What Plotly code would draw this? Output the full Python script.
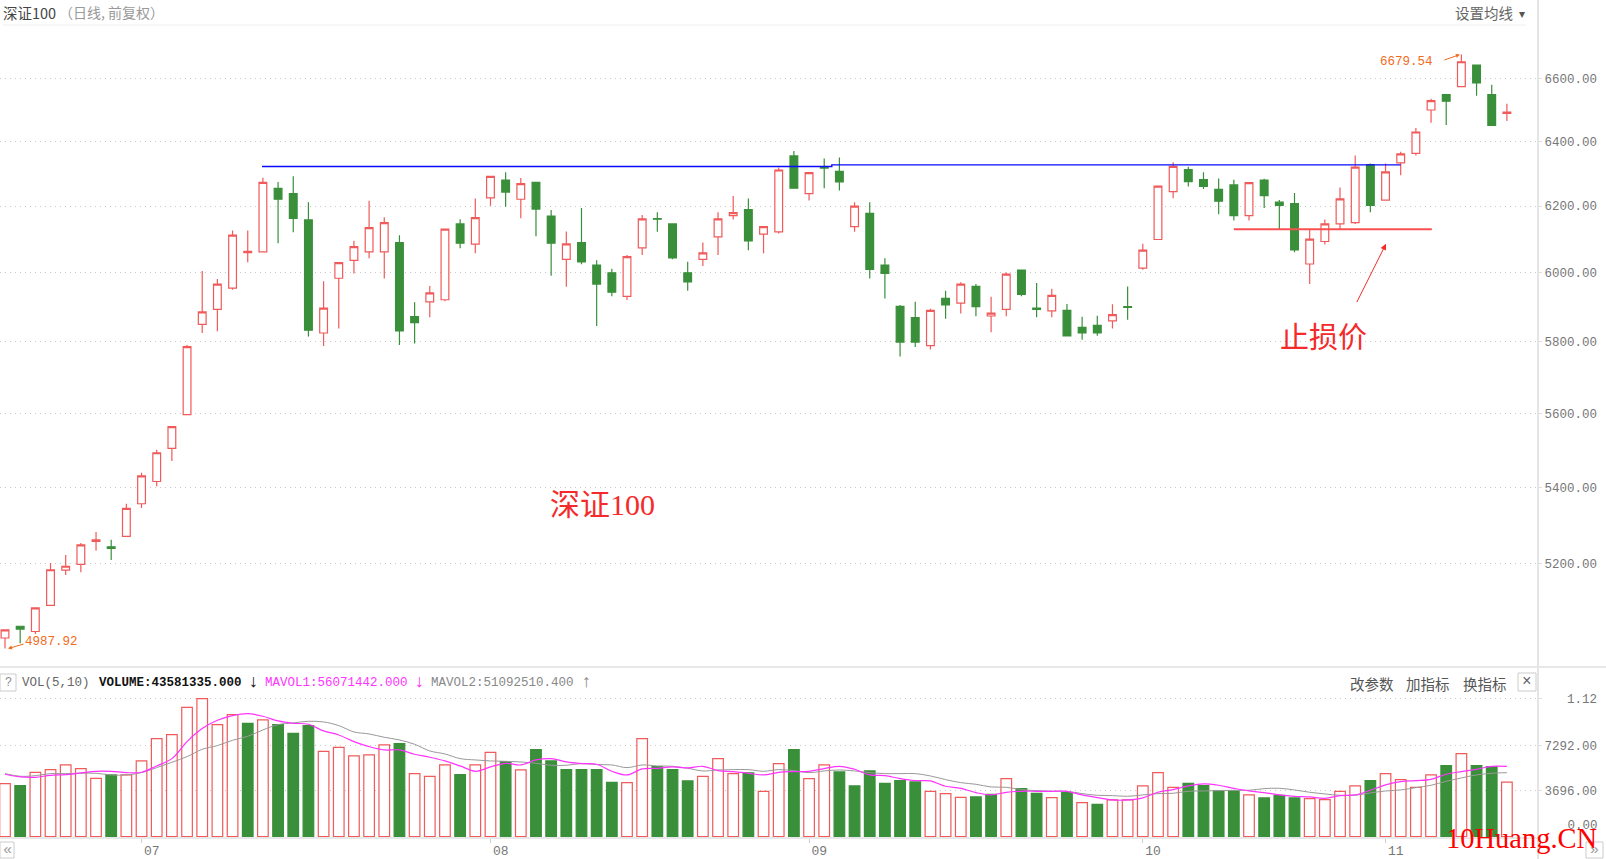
import math
import plotly.graph_objects as go

# daily bars
opens = [5014,5043,5030,5095,5184,5199,5258,5244,5271,5356,5415,5504,5596,5850,5893,5955,6060,6062,6254,6238,
         6158,5825,5984,6037,6062,6062,6090,5872,5915,5921,6146,6085,6225,6280,6221,6273,6170,6040,6090,6023,
         6000,5931,6074,6162,6146,6000,6040,6107,6171,6189,6115,6122,6355,6238,6320,6307,6138,6178,6023,5902,
         5869,5789,5925,5911,5960,5874,5893,6008,5897,5889,5890,5841,5847,5860,5901,6014,6099,6244,6312,6281,
         6251,6265,6171,6280,6212,6208,6026,6093,6146,6150,6328,6218,6333,6363,6500,6549,6575,6645,6549,6489]
highs = [5034,5043,5089,5202,5223,5254,5282,5262,5356,5438,5500,5563,5791,6005,5982,6126,6126,6287,6274,6292,
         6212,5975,6030,6095,6216,6166,6112,5914,5961,6130,6160,6223,6291,6304,6286,6273,6188,6123,6194,6037,
         6012,6053,6173,6181,6146,6033,6090,6181,6231,6223,6138,6319,6370,6303,6347,6350,6212,6212,6043,5906,
         5915,5895,5947,5972,5967,5930,6001,6008,5970,5953,5909,5872,5875,5908,5960,6086,6261,6335,6321,6304,
         6285,6281,6272,6284,6219,6240,6130,6159,6257,6356,6331,6331,6368,6443,6536,6549,6679.54,6645,6581,6520]
lows = [4987.92,5001,5024,5095,5172,5179,5234,5210,5271,5345,5402,5470,5596,5825,5830,5950,6031,6062,6088,6121,
        5815,5788,5838,5998,6043,5983,5791,5795,5870,5917,6073,6058,6201,6198,6163,6109,5991,5959,6025,5845,
        5931,5920,6053,6122,6040,5947,6020,6053,6159,6067,6058,6117,6255,6217,6255,6248,6122,5983,5925,5758,
        5785,5778,5866,5881,5873,5827,5873,5931,5870,5870,5817,5806,5817,5838,5863,6009,6099,6224,6260,6252,
        6175,6156,6156,6194,6130,6061,5967,6084,6130,6146,6181,6218,6295,6356,6459,6452,6575,6546,6451,6465]
closes = [5034,5036,5089,5185,5194,5249,5262,5240,5344,5430,5492,5563,5786,5886,5967,6112,6064,6273,6221,6163,
          5833,5897,6030,6078,6135,6150,5831,5855,5941,6130,6088,6165,6291,6243,6269,6191,6088,6086,6032,5967,
          5943,6048,6161,6160,6044,5973,6059,6161,6180,6095,6138,6311,6255,6303,6317,6274,6200,6010,5998,5799,
          5799,5890,5906,5967,5901,5882,5996,5937,5893,5934,5817,5825,5825,5878,5899,6067,6261,6322,6275,6260,
          6215,6171,6272,6232,6202,6068,6100,6146,6222,6320,6202,6305,6361,6430,6530,6528,6656,6587,6451,6493]

volume = [4234,4074,5140,5353,5726,5433,4660,4927,4927,6045,7829,8149,10332,11025,8948,9747,9054,9320,8948,8255,
          8868,6817,7137,6444,6524,7323,7430,5033,4820,5725,4953,5725,6737,5992,5326,6950,6045,5353,5353,5353,
          4341,4314,7829,5592,5353,4447,4820,6231,5033,5086,3622,5832,6950,4634,5725,5166,4048,5246,4261,4474,
          4367,3622,3435,3142,3169,3382,4634,3835,3462,3116,3515,2716,2583,2929,2929,4048,5113,3941,4261,4074,
          3648,3648,3329,3089,3302,3089,3036,2956,3622,4048,4474,5033,4554,3941,4927,5672,6631,5672,5592,4358]
# bars the volume pane paints green (not always the same as the candle colour)
vol_down = [1,7,16,18,19,20,26,30,33,35,36,37,38,39,40,43,44,45,49,52,55,56,57,58,59,60,64,65,67,68,70,72,
            78,79,80,81,83,84,85,90,95,97,98]
mavol1 = [4980,4767,4740,4900,4953,5086,5219,5219,5113,5140,5646,6231,7590,8628,9294,9667,9826,9613,9241,9054,
          8974,8442,8122,7590,7190,6924,6924,6578,6338,6045,5646,5219,5566,5859,5725,6125,6231,5965,5832,5779,
          5219,4927,5406,5459,5566,5486,5619,5273,5193,5060,4927,5140,5193,5219,5433,5619,5379,4927,4873,4634,
          4474,4447,4021,3861,3515,3329,3542,3622,3622,3622,3622,3329,3116,2929,2929,3089,3542,3755,4048,4208,
          4101,3861,3648,3515,3329,3222,3169,3062,3275,3329,3702,4128,4394,4474,4580,4980,5193,5379,5619,5607]
mavol2 = [5033,4820,4873,5033,5033,5060,5060,4927,4927,5113,5512,5938,6391,6977,7270,7696,8016,8522,8948,9081,
          9214,9161,8868,8362,8202,7936,7723,7377,6844,6604,6231,6125,6045,6018,5965,5859,5699,5699,5832,5752,
          5725,5512,5725,5646,5619,5459,5246,5326,5353,5353,5219,5353,5273,5113,5246,5326,5246,5113,5033,5033,
          5033,4847,4554,4314,4181,3968,3941,3755,3675,3622,3622,3435,3302,3275,3222,3329,3435,3462,3622,3648,
          3675,3702,3702,3835,3861,3728,3542,3409,3302,3302,3489,3648,3728,3915,4101,4421,4687,4927,5060,5109]

price_ticks = [5200,5400,5600,5800,6000,6200,6400,6600]
vol_ticks = [3696,7292,11026]
vol_labels = ["3696.00","7292.00","\u00a0\u00a0\u00a01.12"]
month_pos = [9,32,53,75,91]
month_labels = ["07","08","09","10","11"]

# drawn-in lines
resist_x = [16.94,54.5,54.5,92]
resist_y = [6322,6322,6327,6327]
stop_x = [81,94.05]
stop_y = [6130,6130]

W, H = 1606, 859
RED = "#f05a5a"
GREEN = "#3a8f3a"
MONO = "Liberation Mono"
CJK = "Noto Sans CJK SC"
days = list(range(len(opens)))
vol_fill = [GREEN if i in vol_down else "white" for i in days]
vol_line = [GREEN if i in vol_down else RED for i in days]


def px(x):
    return x / W


def py(y):
    return 1 - y / H


fig = go.Figure()
fig.add_trace(go.Candlestick(
    x=days, open=opens, high=highs, low=lows, close=closes,
    increasing=dict(fillcolor="white", line=dict(color=RED, width=1.2)),
    decreasing=dict(fillcolor=GREEN, line=dict(color=GREEN, width=1.2)),
    whiskerwidth=0, xaxis="x", yaxis="y", showlegend=False,
))
fig.add_trace(go.Scatter(x=resist_x, y=resist_y, mode="lines", line=dict(color="#0a0aff", width=1.4),
                         xaxis="x", yaxis="y", showlegend=False))
fig.add_trace(go.Scatter(x=stop_x, y=stop_y, mode="lines", line=dict(color="#f85050", width=2),
                         xaxis="x", yaxis="y", showlegend=False))
fig.add_trace(go.Bar(x=days, y=volume, width=0.7, marker=dict(color=vol_fill, line=dict(color=vol_line, width=1.2)),
                     xaxis="x2", yaxis="y2", showlegend=False))
fig.add_trace(go.Scatter(x=days, y=mavol2, mode="lines", line=dict(color="#999999", width=1, shape="spline"),
                         xaxis="x2", yaxis="y2", showlegend=False))
fig.add_trace(go.Scatter(x=days, y=mavol1, mode="lines", line=dict(color="#ff33ff", width=1.2, shape="spline"),
                         xaxis="x2", yaxis="y2", showlegend=False))

notes = []


def note(text, x, y, size=12, color="#666666", family=MONO, anchor="left"):
    notes.append(dict(text=text, x=px(x), y=py(y), xref="paper", yref="paper", showarrow=False,
                      xanchor=anchor, yanchor="middle", font=dict(size=size, color=color, family=family)))


note("深证100", 1, 12, 14.5, "#444444", CJK)
note("（日线, 前复权）", 57, 12, 14, "#999999", CJK)
note("设置均线", 1453, 12, 14.5, "#666666", CJK)
note("▾", 1517, 12, 12, "#555555", CJK)
note("深证100", 548, 505, 30, "#f52a2a", "Liberation Serif, Noto Sans CJK SC")
note("止损价", 1278, 335, 29, "#f52a2a", CJK)
note("6679.54", 1378, 62, 12.5, "#f26a1b")
note("4987.92", 23, 642, 12.5, "#f26a1b")
note("?", 8, 683, 12, "#888888", anchor="center")
note("VOL(5,10)", 20, 683, 12.5, "#666666")
note("<b>VOLUME:43581335.000</b>", 97, 683, 12.5, "#111111")
note("↓", 253, 682, 18, "#111111", anchor="center")
note("MAVOL1:56071442.000", 263, 683, 12.5, "#ff33ff")
note("↓", 419, 682, 18, "#ff33ff", anchor="center")
note("MAVOL2:51092510.400", 429, 683, 12.5, "#888888")
note("↑", 586, 682, 18, "#888888", anchor="center")
note("改参数", 1348, 683, 14.5, "#555555", CJK)
note("加指标", 1404, 683, 14.5, "#555555", CJK)
note("换指标", 1461, 683, 14.5, "#555555", CJK)
note("×", 1527, 682, 16, "#666666", anchor="center")
note("\u00a0\u00a0\u00a00.00", 1543, 826, 12.5, "#777777")
note("«", 7, 850, 15, "#999999", anchor="center")
note("»", 1594, 850, 15, "#999999", anchor="center")
note("10Huang.CN", 1444, 838, 28.5, "#ff0000", "Liberation Serif")

# arrows to the extreme prices and to the stop line
notes.append(dict(x=95.9, y=math.log10(6679.54), xref="x", yref="y", ax=-17, ay=6, text="", showarrow=True,
                  arrowhead=2, arrowsize=0.8, arrowwidth=1, arrowcolor="#f26a1b"))
notes.append(dict(x=0.2, y=math.log10(4987.92), xref="x", yref="y", ax=17, ay=-5, text="", showarrow=True,
                  arrowhead=2, arrowsize=0.8, arrowwidth=1, arrowcolor="#f26a1b"))
notes.append(dict(x=91.03, y=math.log10(6086), xref="x", yref="y", ax=89.06, ay=math.log10(5910), axref="x",
                  ayref="y", text="", showarrow=True, arrowhead=2, arrowsize=1.2, arrowwidth=1, arrowcolor="#f52a2a"))

lines = [
    dict(x0=px(3), x1=px(1526), y0=py(25), y1=py(25), color="#eeeeee", width=1),
    dict(x0=0, x1=1, y0=py(667), y1=py(667), color="#e8e8e8", width=2),
    dict(x0=0, x1=px(1538), y0=py(838), y1=py(838), color="#e8e8e8", width=2),
    dict(x0=px(1538), x1=px(1538), y0=0, y1=1, color="#e4e4e4", width=2),
]
shapes = [dict(type="line", xref="paper", yref="paper", x0=l["x0"], x1=l["x1"], y0=l["y0"], y1=l["y1"],
               line=dict(color=l["color"], width=l["width"])) for l in lines]
for box in [(0, 674, 16, 691), (1518, 673, 1536, 691), (0, 842, 14, 858), (1586, 842, 1603, 858)]:
    shapes.append(dict(type="rect", xref="paper", yref="paper", x0=px(box[0]), x1=px(box[2]),
                       y0=py(box[1]), y1=py(box[3]), line=dict(color="#cccccc", width=1)))

common_x = dict(domain=[0, px(1538)], range=[-0.33, 101.05], showgrid=False, zeroline=False, showline=False)
fig.update_layout(
    width=W, height=H, margin=dict(l=0, r=0, t=0, b=0), paper_bgcolor="white", plot_bgcolor="white",
    boxgap=0.27, bargap=0.3, annotations=notes, shapes=shapes, showlegend=False,
    xaxis=dict(common_x, anchor="y", rangeslider=dict(visible=False), showticklabels=False, ticks=""),
    yaxis=dict(
        domain=[py(667), py(26)], type="log", range=[math.log10(4943), math.log10(6774)], side="right", anchor="x",
        tickvals=price_ticks, ticktext=[f"{p:.2f}" for p in price_ticks], showgrid=True, gridcolor="#c8c8c8",
        griddash="1px,4px", gridwidth=1, ticks="outside", ticklen=3, tickcolor="#dddddd", zeroline=False,
        tickfont=dict(family=MONO, size=12.5, color="#777777"), showline=False,
    ),
    xaxis2=dict(common_x, anchor="y2", tickvals=month_pos, ticktext=month_labels, ticks="outside", ticklen=4,
                tickcolor="#cccccc", ticklabelposition="outside right", ticklabelshift=2,
                tickfont=dict(family=MONO, size=13, color="#777777")),
    yaxis2=dict(
        domain=[py(838), py(669)], range=[-110, 13390], side="right", anchor="x2", tickvals=vol_ticks,
        ticktext=vol_labels, showgrid=True, gridcolor="#c8c8c8", griddash="1px,4px", gridwidth=1, ticks="outside",
        ticklen=3, tickcolor="#dddddd", zeroline=False, showline=False,
        tickfont=dict(family=MONO, size=12.5, color="#777777"),
    ),
)

fig.write_html("out.html", config=dict(displayModeBar=False),
               post_script="document.documentElement.style.overflow='hidden';document.body.style.margin='0';")
